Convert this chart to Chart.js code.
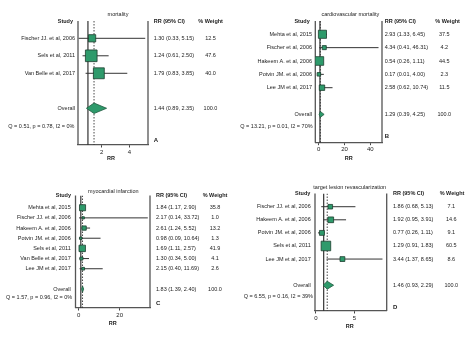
<!DOCTYPE html>
<html>
<head>
<meta charset="utf-8">
<script src="https://cdn.jsdelivr.net/npm/chart.js@4.4.1/dist/chart.umd.min.js"></script>
<style>
  body { margin: 0; background: #fff; }
  #wrap { position: relative; width: 474px; height: 341px; }
  #wrap canvas { position: absolute; left: 0; top: 0; }
</style>
</head>
<body>
<div id="wrap">
  <canvas id="cA" width="474" height="341"></canvas>
  <canvas id="cB" width="474" height="341"></canvas>
  <canvas id="cC" width="474" height="341"></canvas>
  <canvas id="cD" width="474" height="341"></canvas>
</div>
<script>
// A: mortality
const studiesA = ["Fischer JJ. et al, 2006", "Sels et al, 2011", "Van Belle et al, 2017"];
const rrA = [1.30, 1.24, 1.79];
const loA = [0.33, 0.61, 0.83];
const hiA = [5.15, 2.50, 3.85];
const weightA = [12.5, 47.6, 40.0];
const overallA = [1.44, 0.89, 2.35];
const statA = "Q = 0.51, p = 0.78, I2 = 0%";
const ticksA = [2, 4];

// B: cardiovascular mortality
const studiesB = ["Mehta et al, 2015", "Fischer et al, 2006", "Hakeem A. et al, 2006", "Potvin JM. et al, 2006", "Lee JM et al, 2017"];
const rrB = [2.93, 4.34, 0.54, 0.17, 2.58];
const loB = [1.33, 0.41, 0.26, 0.01, 0.62];
const hiB = [6.45, 46.31, 1.11, 4.00, 10.74];
const weightB = [37.5, 4.2, 44.5, 2.3, 11.5];
const overallB = [1.29, 0.39, 4.25];
const statB = "Q = 13.21, p = 0.01, I2 = 70%";
const ticksB = [0, 20, 40];

// C: myocardial infarction
const studiesC = ["Mehta et al, 2015", "Fischer JJ. et al, 2006", "Hakeem A. et al, 2006", "Potvin JM. et al, 2006", "Sels et al, 2011", "Van Belle et al, 2017", "Lee JM et al, 2017"];
const rrC = [1.84, 2.17, 2.61, 0.98, 1.69, 1.30, 2.15];
const loC = [1.17, 0.14, 1.24, 0.09, 1.11, 0.34, 0.40];
const hiC = [2.90, 33.72, 5.52, 10.64, 2.57, 5.00, 11.69];
const weightC = [35.8, 1.0, 13.2, 1.3, 41.9, 4.1, 2.6];
const overallC = [1.83, 1.39, 2.40];
const statC = "Q = 1.57, p = 0.96, I2 = 0%";
const ticksC = [0, 20];

// D: target lesion revascularization
const studiesD = ["Fischer JJ. et al, 2006", "Hakeem A. et al, 2006", "Potvin JM. et al, 2006", "Sels et al, 2011", "Lee JM et al, 2017"];
const rrD = [1.86, 1.92, 0.77, 1.29, 3.44];
const loD = [0.68, 0.95, 0.26, 0.91, 1.37];
const hiD = [5.13, 3.91, 1.11, 1.83, 8.65];
const weightD = [7.1, 14.6, 9.1, 60.5, 8.6];
const overallD = [1.46, 0.93, 2.29];
const statD = "Q = 6.55, p = 0.16, I2 = 39%";
const ticksD = [0, 5];

const overallWeight = 100.0;

const W = 474, H = 341, AXIS_H = 10;
const F = '"Liberation Sans", Arial, sans-serif';
const GREEN = "#2e9a6b";

const panels = [
  { id: "cA", title: "mortality", letter: "A", studies: studiesA, rr: rrA, lo: loA, hi: hiA, w: weightA,
    overall: overallA, stat: statA, ticks: ticksA,
    box: { l: 78, r: 148, t: 21, b: 145 }, x: [0.28, 5.35], y: [0.011, 7.1], dh: 0.3,
    titleX: 118, titleY: 14.5, headY: 21.5, studyX: 73, nameX: 75, ciX: 153.7, wHeadX: 198.3, wX: 210.5,
    qX: 8.3, qY: 126.7, letterY: 140, rrX: 111, rrY: 158.5 },
  { id: "cB", title: "cardiovascular mortality", letter: "B", studies: studiesB, rr: rrB, lo: loB, hi: hiB, w: weightB,
    overall: overallB, stat: statB, ticks: ticksB,
    box: { l: 315.3, r: 382, t: 21, b: 142.7 }, x: [-2.6, 49], y: [0.004, 9.12], dh: 0.22,
    titleX: 350.3, titleY: 14.5, headY: 21.5, studyX: 309.7, nameX: 312, ciX: 384.7, wHeadX: 435.3, wX: 444.3,
    qX: 240.3, qY: 126.7, letterY: 136.7, rrX: 348.7, rrY: 158.3 },
  { id: "cC", title: "myocardial infarction", letter: "C", studies: studiesC, rr: rrC, lo: loC, hi: hiC, w: weightC,
    overall: overallC, stat: statC, ticks: ticksC,
    box: { l: 75.5, r: 150, t: 195.5, b: 308 }, x: [-1.6, 34.8], y: [-0.2, 10.86], dh: 0.3,
    titleX: 113.3, titleY: 191, headY: 195.7, studyX: 71, nameX: 70.7, ciX: 156, wHeadX: 202.7, wX: 215,
    qX: 6, qY: 297.7, letterY: 303.5, rrX: 112.7, rrY: 323.5 },
  { id: "cD", title: "target lesion revascularization", letter: "D", studies: studiesD, rr: rrD, lo: loD, hi: hiD, w: weightD,
    overall: overallD, stat: statD, ticks: ticksD,
    box: { l: 315, r: 386.7, t: 193.5, b: 311 }, x: [-0.13, 9.2], y: [-0.01, 8.97], dh: 0.3,
    titleX: 349.7, titleY: 187.7, headY: 193.5, studyX: 310.3, nameX: 310.7, ciX: 393, wHeadX: 439.7, wX: 451.3,
    qX: 243.7, qY: 296.7, letterY: 307.3, rrX: 349.7, rrY: 326.7 }
];

function fmt(v) { return v.toFixed(2); }

function forestText(p) {
  return {
    id: "forestText" + p.letter,
    beforeDatasetsDraw(chart) {
      const a = chart.chartArea, ctx = chart.ctx;
      ctx.save();
      ctx.strokeStyle = "#555";
      ctx.lineWidth = 1.3;
      ctx.beginPath();
      ctx.moveTo(a.left, a.top); ctx.lineTo(a.left, a.bottom);
      ctx.moveTo(a.right, a.top); ctx.lineTo(a.right, a.bottom);
      ctx.stroke();
      ctx.restore();
    },
    afterDraw(chart) {
      const ctx = chart.ctx, ys = chart.scales.y;
      const n = p.studies.length;
      ctx.save();
      ctx.fillStyle = "#222";
      ctx.textBaseline = "middle";

      ctx.font = "5.5px " + F;
      ctx.textAlign = "center";
      ctx.fillText(p.title, p.titleX, p.titleY);

      ctx.font = "bold 5.5px " + F;
      ctx.textAlign = "right";
      ctx.fillText("Study", p.studyX, p.headY);
      ctx.textAlign = "left";
      ctx.fillText("RR (95% CI)", p.ciX, p.headY);
      ctx.fillText("% Weight", p.wHeadX, p.headY);

      ctx.font = "5.5px " + F;
      p.studies.forEach((s, i) => {
        const yy = ys.getPixelForValue(i + 1);
        ctx.textAlign = "right";
        ctx.fillText(s, p.nameX, yy);
        ctx.textAlign = "left";
        ctx.fillText(fmt(p.rr[i]) + " (" + fmt(p.lo[i]) + ", " + fmt(p.hi[i]) + ")", p.ciX, yy);
        ctx.textAlign = "center";
        ctx.fillText(p.w[i].toFixed(1), p.wX, yy);
      });
      const oy = ys.getPixelForValue(n + 2);
      ctx.textAlign = "right";
      ctx.fillText("Overall", p.nameX, oy);
      ctx.textAlign = "left";
      ctx.fillText(fmt(p.overall[0]) + " (" + fmt(p.overall[1]) + ", " + fmt(p.overall[2]) + ")", p.ciX, oy);
      ctx.textAlign = "center";
      ctx.fillText(overallWeight.toFixed(1), p.wX, oy);

      ctx.textAlign = "left";
      ctx.fillText(p.stat, p.qX, p.qY);

      ctx.font = "bold 6px " + F;
      ctx.fillText(p.letter, p.ciX, p.letterY);
      ctx.textAlign = "center";
      ctx.font = "bold 5.5px " + F;
      ctx.fillText("RR", p.rrX, p.rrY);
      ctx.restore();
    }
  };
}

function makeChart(p) {
  const n = p.studies.length;
  const oy = n + 2;
  const sp = (p.box.b - p.box.t) / (p.y[1] - p.y[0]);
  const ci = [];
  p.studies.forEach((s, i) => {
    ci.push({ x: p.lo[i], y: i + 1 }, { x: p.hi[i], y: i + 1 }, { x: null, y: null });
  });
  const pts = p.studies.map((s, i) => ({ x: p.rr[i], y: i + 1 }));
  const est = p.overall[0], lo = p.overall[1], hi = p.overall[2];
  const diamond = [
    { x: lo, y: oy }, { x: est, y: oy - p.dh }, { x: hi, y: oy }, { x: est, y: oy + p.dh }, { x: lo, y: oy }
  ];
  const side = w => sp * (0.15 + 0.075 * Math.sqrt(w));

  new Chart(document.getElementById(p.id), {
    type: "scatter",
    data: {
      datasets: [
        { data: [{ x: 1, y: p.y[0] }, { x: 1, y: p.y[1] }], showLine: true, borderColor: "#333",
          borderWidth: 1.2, pointRadius: 0, order: 3 },
        { data: [{ x: est, y: p.y[0] }, { x: est, y: p.y[1] }], showLine: true, borderColor: "#333",
          borderWidth: 0.9, borderDash: [1.5, 1.5], pointRadius: 0, order: 3 },
        { data: ci, showLine: true, spanGaps: false, borderColor: "#333", borderWidth: 1,
          pointRadius: 0, order: 2 },
        { data: pts, pointStyle: "rect", backgroundColor: GREEN, borderColor: "#1d3d2e", borderWidth: 0.8,
          pointRadius: ctx => ctx.dataIndex === undefined ? 3 : side(p.w[ctx.dataIndex]) / Math.SQRT2,
          order: 1 },
        { data: diamond, showLine: true, fill: "shape", backgroundColor: GREEN, borderColor: "#1f5a3f",
          borderWidth: 0.8, pointRadius: 0, order: 1 }
      ]
    },
    options: {
      responsive: false,
      animation: false,
      events: [],
      layout: {
        autoPadding: false,
        padding: { left: p.box.l, right: W - p.box.r, top: p.box.t, bottom: H - p.box.b - AXIS_H }
      },
      plugins: { legend: { display: false }, tooltip: { enabled: false } },
      scales: {
        x: {
          type: "linear", min: p.x[0], max: p.x[1],
          afterBuildTicks: s => { s.ticks = p.ticks.map(v => ({ value: v })); },
          afterFit: s => { s.height = AXIS_H; },
          grid: { drawOnChartArea: false, drawTicks: true, tickLength: 2.5, color: "#444" },
          border: { display: true, color: "#555", width: 1.2 },
          ticks: { font: { family: F, size: 6 }, color: "#222", padding: 1, maxRotation: 0 }
        },
        y: { type: "linear", display: false, reverse: true, min: p.y[0], max: p.y[1] }
      }
    },
    plugins: [forestText(p)]
  });
}

panels.forEach(makeChart);
</script>
</body>
</html>
